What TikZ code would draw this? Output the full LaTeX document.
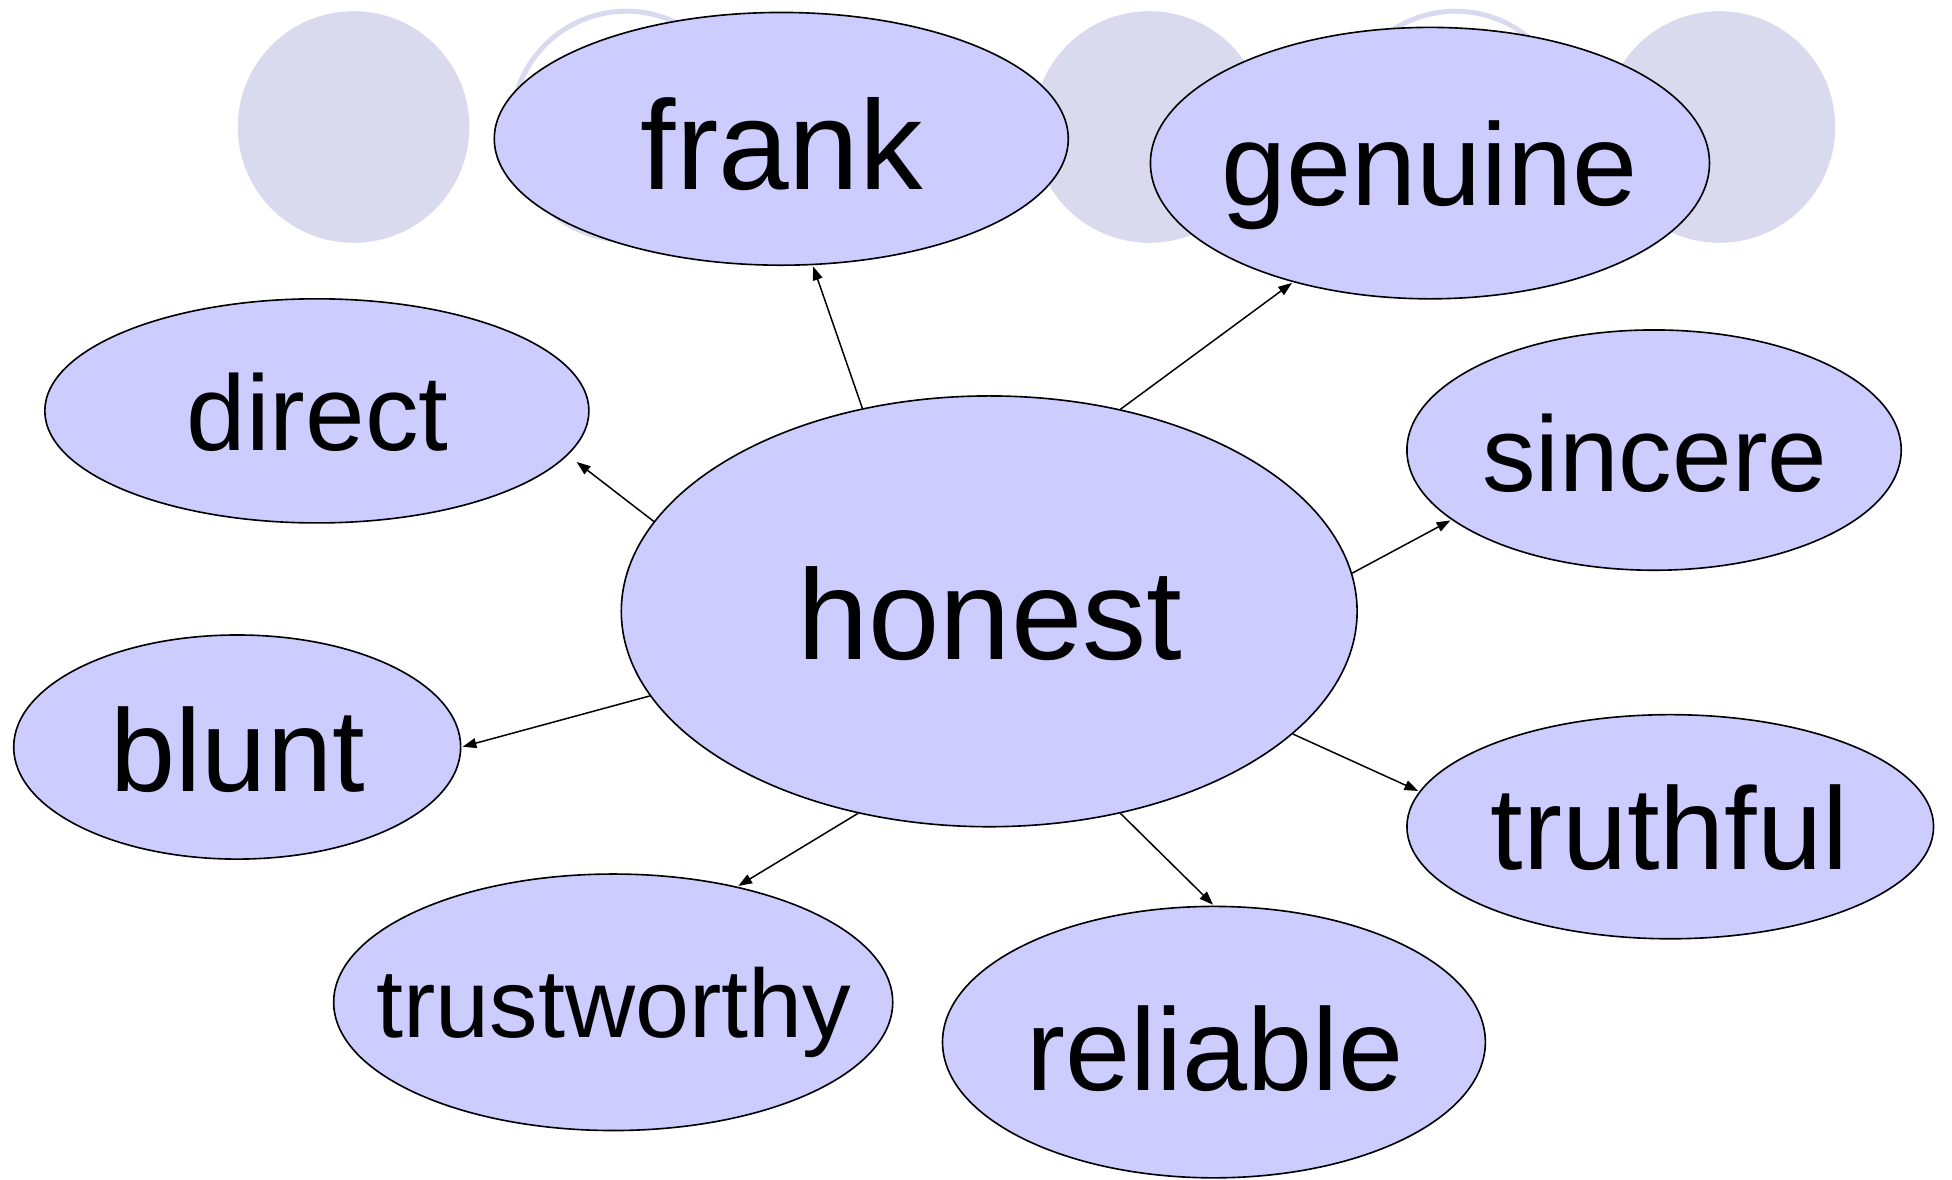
\documentclass[tikz,border=0pt]{standalone}
\usepackage{fontspec}
\setmainfont{Liberation Sans}
\usetikzlibrary{arrows.meta,shapes.geometric}
\definecolor{bub}{HTML}{CCCCFF}
\definecolor{bgc}{HTML}{DADAEE}
\begin{document}
\begin{tikzpicture}[x=1pt,y=-1pt,
 bubble/.style={ellipse, draw=black, line width=1.3pt, fill=bub, inner sep=0pt},
 word/.style={anchor=base, inner sep=0pt, text=black, font=\fontsize{#1}{#1}\selectfont},
 link/.style={-{Triangle[length=11pt,width=8pt]}, line width=1.2pt, shorten >=1pt},
 deco/.style={circle, fill=bgc, inner sep=0pt, minimum size=186pt},
 ringc/.style={circle, draw=bgc, line width=4pt, inner sep=0pt, minimum size=184pt}]
\useasboundingbox (0,0) rectangle (1567.8,947.7);
% background circles
\node[deco] (c1) at (284,102) {};
\node[ringc] (c2) at (503,101) {};
\node[deco] (c3) at (923,102) {};
\node[ringc] (c4) at (1169,101) {};
\node[deco] (c5) at (1381,102) {};
% bubbles
\node[bubble, minimum width=461pt, minimum height=203pt] (frank) at (627.5,111.5) {};
\node[bubble, minimum width=449pt, minimum height=218pt] (genuine) at (1148.5,131) {};
\node[bubble, minimum width=437pt, minimum height=180pt] (direct) at (254.5,330) {};
\node[bubble, minimum width=397pt, minimum height=193pt] (sincere) at (1328.5,361.5) {};
\node[bubble, minimum width=591pt, minimum height=346pt] (honest) at (794.5,491) {};
\node[bubble, minimum width=359pt, minimum height=180pt] (blunt) at (190.5,600) {};
\node[bubble, minimum width=423pt, minimum height=180pt] (truthful) at (1341.5,664) {};
\node[bubble, minimum width=449pt, minimum height=206pt] (trustworthy) at (492.5,805) {};
\node[bubble, minimum width=436pt, minimum height=218pt] (reliable) at (975,837) {};
% words
\node[word=103pt] (thonest) at (795,530) {honest};
\node[word=102pt] (tfrank) at (628,152) {frank};
\node[word=94pt] (tgenuine) at (1148,165) {genuine};
\node[word=86pt] (tdirect) at (255,362) {direct};
\node[word=86pt] (tsincere) at (1329,395) {sincere};
\node[word=94pt] (tblunt) at (191,636) {blunt};
\node[word=94pt] (ttruthful) at (1341,698) {truthful};
\node[word=78pt] (ttrustworthy) at (493,833) {trustworthy};
\node[word=94pt] (treliable) at (976,876) {reliable};
% connectors
\draw[link] (honest.122.2) -- (frank.284.9);
\draw[link] (honest.57.2) -- (genuine.221.5);
\draw[link, shorten >=9pt] (honest.165.1) -- (direct.350.2);
\draw[link] (honest.6.2) -- (sincere.199.9);
\draw[link] (honest.194.7) -- (blunt.0);
\draw[link] (honest.338.5) -- (truthful.172.3);
\draw[link] (honest.237.5) -- (trustworthy.43);
\draw[link] (honest.303.1) -- (reliable.90);
\end{tikzpicture}
\end{document}
